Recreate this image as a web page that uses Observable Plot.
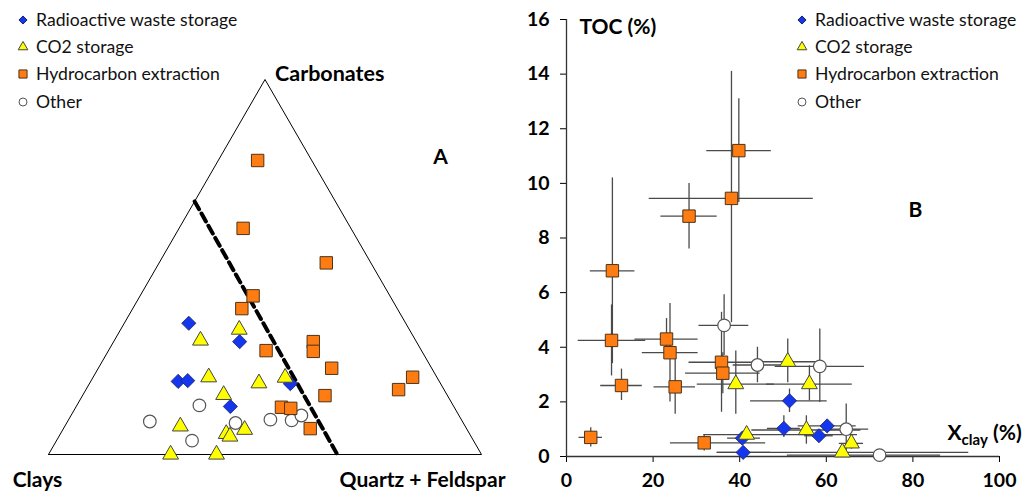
<!DOCTYPE html>
<html>
<head>
<meta charset="utf-8">
<script src="https://cdn.jsdelivr.net/npm/d3@7"></script>
<script src="https://cdn.jsdelivr.net/npm/@observablehq/plot@0.6"></script>
<style>
  body { margin: 0; background: #fff; }
  #wrap { position: relative; width: 1023px; height: 493px; overflow: hidden; font-family: Lato, "Open Sans", sans-serif; background:#fff; }
  .lg { position: absolute; white-space: nowrap; font-size: 17.6px; line-height: 1; color: #111; transform: translateY(-50%); }
</style>
</head>
<body>
<div id="wrap"></div>
<script>
// ---------- categories ----------
const groups = ["Radioactive waste storage", "CO2 storage", "Hydrocarbon extraction", "Other"];

// ---------- panel A: ternary compositions (%) ----------
const terGroup = [
  ...Array(15).fill("Hydrocarbon extraction"),
  ...Array(6).fill("Radioactive waste storage"),
  ...Array(12).fill("CO2 storage"),
  ...Array(7).fill("Other")
];
const terClay = [12.5, 24.9, 10.3, 31.6, 35.9, 35.9, 23.8, 25.1, 23.1, 5.6, 10.5, 28.3, 39.9, 37.9, 36.1,
                 50.1, 40.8, 60.3, 58.0, 34.7, 51.6,
                 49.7, 39.3, 52.7, 41.9, 35.1, 51.6, 65.8, 56.2, 55.7, 51.4, 71.8, 61.2,
                 58.6, 72.2, 65.0, 52.6, 44.1, 39.3, 36.4];
const terCarb = [78.4, 60.3, 51.1, 42.3, 38.9, 27.7, 30.1, 27.5, 23.0, 20.6, 17.3, 15.7, 12.6, 12.3, 6.9,
                 35.0, 30.1, 19.5, 19.7, 18.9, 12.8,
                 30.4, 33.3, 20.6, 19.0, 20.5, 15.9, 7.5, 5.5, 4.8, 6.6, 0, 0,
                 13.1, 8.8, 3.7, 8.4, 9.3, 9.1, 10.4];
const terQF   = [9.1, 14.8, 38.6, 26.1, 25.2, 36.4, 46.1, 47.4, 53.9, 73.8, 72.2, 56.0, 47.5, 49.8, 57.0,
                 14.9, 29.1, 20.2, 22.3, 46.4, 35.6,
                 19.9, 27.4, 26.7, 39.1, 44.4, 32.5, 26.7, 38.3, 39.5, 42.0, 28.2, 38.8,
                 28.3, 19.0, 31.3, 39.0, 46.6, 51.6, 53.2];
// triangle vertices (clay, carbonates, quartz+feldspar) and labels
const vertexLabels = ["Clays", "Carbonates", "Quartz + Feldspar"];
const vertexClay = [100, 0, 0];
const vertexCarb = [0, 100, 0];
const vertexQF   = [0, 0, 100];
// dashed boundary line (constant clay ~33 %)
const dashClay = [32.5, 33.3];
const dashCarb = [67.5, 0];
const dashQF   = [0, 66.7];

// ---------- panel B: clay fraction vs TOC ----------
const bGroup = [
  ...Array(13).fill("Hydrocarbon extraction"),
  ...Array(5).fill("Other"),
  ...Array(7).fill("CO2 storage"),
  ...Array(6).fill("Radioactive waste storage")
];
const bClay   = [39.8, 38.1, 28.3, 10.6, 10.4, 23.1, 23.9, 35.8, 36.1, 12.7, 25.1, 5.6, 31.8,
                 36.4, 44.1, 58.5, 64.6, 72.3,
                 51.1, 39.1, 56.1, 55.4, 41.6, 65.8, 63.7,
                 51.5, 50.2, 60.2, 58.3, 40.6, 40.8];
const bToc    = [11.2, 9.45, 8.8, 6.8, 4.25, 4.3, 3.8, 3.45, 3.05, 2.6, 2.55, 0.7, 0.5,
                 4.8, 3.35, 3.3, 1.0, 0.05,
                 3.47, 2.65, 2.65, 0.97, 0.8, 0.48, 0.15,
                 2.04, 1.03, 1.12, 0.76, 0.67, 0.15];
const bClayLo = [32.4, 19.1, 21.8, 5.5, 2.7, 15.8, 17.5, 28.3, 27.5, 7.9, 20.2, 2.9, 24.0,
                 30.6, 38.5, 48.2, 59.4, 51.0,
                 44.0, 30.2, 46.2, 42.8, 31.7, 63.0, 34.8,
                 42.5, 46.4, 53.5, 55.0, 37.2, 34.8];
const bClayHi = [47.3, 57.0, 34.8, 15.8, 18.3, 30.4, 30.4, 43.3, 44.7, 17.5, 29.8, 8.3, 46.0,
                 42.1, 49.7, 68.8, 69.8, 86.4,
                 58.0, 48.0, 66.0, 68.0, 67.2, 68.6, 92.9,
                 60.2, 54.0, 66.9, 61.6, 44.8, 47.1];
const bTocLo  = [9.3, 4.9, 7.6, 3.4, 2.95, 3.55, 2.0, 1.62, 2.3, 2.05, 1.55, 0.35, 0.2,
                 3.7, 2.7, 1.98, 0.14, 0.05,
                 2.7, 1.55, 2.04, 0.45, 0.8, 0.27, 0.15,
                 1.61, 0.7, 1.12, 0.76, 0.67, 0.15];
const bTocHi  = [13.1, 14.1, 10.0, 10.2, 5.55, 5.05, 5.6, 5.28, 3.8, 3.2, 3.6, 1.05, 0.8,
                 5.92, 4.0, 4.67, 1.92, 0.05,
                 4.3, 3.86, 3.32, 1.49, 0.8, 0.7, 0.15,
                 2.47, 1.49, 1.12, 0.76, 0.67, 0.15];
const xTicks = [0, 20, 40, 60, 80, 100];
const yTicks = [0, 2, 4, 6, 8, 10, 12, 14, 16];

// ---------- styles ----------
const diamondSym = {draw(ctx, size) { const r = Math.sqrt(size) * 0.62625; ctx.moveTo(0, -r); ctx.lineTo(r, 0); ctx.lineTo(0, r); ctx.lineTo(-r, 0); ctx.closePath(); }};
const style = {
  "Radioactive waste storage": {symbol: diamondSym, fill: "#1437ee", stroke: "#1a1f66", r: 6.4, sw: 0.8, lsym: diamondSym, lsize: 42},
  "CO2 storage": {symbol: "triangle", fill: "#ffff00", stroke: "#444", r: 5.9, sw: 1, lsym: d3.symbolTriangle, lsize: 40},
  "Hydrocarbon extraction": {symbol: "square", fill: "#ff7c12", stroke: "#4d3319", r: 7, sw: 1, lsym: d3.symbolSquare, lsize: 66},
  "Other": {symbol: "circle", fill: "#ffffff", stroke: "#555", r: 6.3, sw: 1.2, lsym: d3.symbolCircle, lsize: 50}
};

// ---------- build tables ----------
const S3 = Math.sqrt(3) / 2;
const tern = (clay, carb, qf) => { const s = clay + carb + qf; return {x: (qf + carb / 2) / s, y: (carb / s) * S3}; };
const terData = terGroup.map((g, i) => ({group: g, ...tern(terClay[i], terCarb[i], terQF[i])}));
const vertData = vertexLabels.map((l, i) => ({label: l, ...tern(vertexClay[i], vertexCarb[i], vertexQF[i])}));
const outline = [...vertData, vertData[0]];
const dashData = dashClay.map((c, i) => tern(c, dashCarb[i], dashQF[i]));
const bData = bGroup.map((g, i) => ({group: g, clay: bClay[i], toc: bToc[i], x1: bClayLo[i], x2: bClayHi[i], y1: bTocLo[i], y2: bTocHi[i]}));

const drawOrder = ["Other", "Hydrocarbon extraction", "Radioactive waste storage", "CO2 storage"];
const dots = (data, x, y) => drawOrder.map(g => Plot.dot(data.filter(d => d.group === g), {
  x, y, symbol: style[g].symbol, r: style[g].r, fill: style[g].fill, stroke: style[g].stroke, strokeWidth: style[g].sw
}));

// ---------- panel A ----------
const left = Plot.plot({
  width: 520, height: 493,
  marginLeft: 48, marginRight: 39, marginTop: 79, marginBottom: 39,
  x: {domain: [0, 1], axis: null},
  y: {domain: [0, S3], axis: null},
  style: {fontFamily: "Lato, sans-serif", background: "transparent", overflow: "visible"},
  marks: [
    Plot.line(outline, {x: "x", y: "y", stroke: "#000", strokeWidth: 1}),
    Plot.line(dashData, {x: "x", y: "y", stroke: "#000", strokeWidth: 4, strokeDasharray: "9,5"}),
    ...dots(terData, "x", "y"),
    Plot.text(vertData.filter(d => d.label === "Clays"), {x: "x", y: "y", text: "label", dx: -11, dy: 26, fontSize: 21, fontWeight: "bold", textAnchor: "middle", fill: "#000"}),
    Plot.text(vertData.filter(d => d.label === "Quartz + Feldspar"), {x: "x", y: "y", text: "label", dx: 24, dy: 26, fontSize: 21, fontWeight: "bold", textAnchor: "end", fill: "#000"}),
    Plot.text(vertData.filter(d => d.label === "Carbonates"), {x: "x", y: "y", text: "label", dx: 10, dy: -5, fontSize: 21.5, fontWeight: "bold", textAnchor: "start", fill: "#000"}),
    Plot.text(["A"], {frameAnchor: "top-left", dx: 392, dy: 78, fontSize: 21, fontWeight: "bold", textAnchor: "middle", lineAnchor: "middle", fill: "#000"})
  ]
});

// ---------- panel B ----------
const right = Plot.plot({
  width: 503, height: 493,
  marginLeft: 46, marginRight: 24, marginTop: 19, marginBottom: 37,
  x: {domain: [0, 100], ticks: xTicks, tickSize: 6, tickPadding: 11, label: null},
  y: {domain: [0, 16], ticks: yTicks, tickSize: 6, tickPadding: 11, label: null},
  style: {fontFamily: "Lato, sans-serif", fontSize: "19.5px", fontWeight: "bold", color: "#000", background: "transparent", overflow: "visible"},
  marks: [
    Plot.ruleY(bData, {y: "toc", x1: "x1", x2: "x2", stroke: "#4a4a4a", strokeWidth: 1.3}),
    Plot.ruleX(bData, {x: "clay", y1: "y1", y2: "y2", stroke: "#4a4a4a", strokeWidth: 1.3}),
    Plot.ruleX([0], {stroke: "#333", strokeWidth: 1.3}),
    Plot.ruleY([0], {stroke: "#333", strokeWidth: 1.3}),
    ...dots(bData, "clay", "toc"),
    Plot.text(["TOC (%)"], {frameAnchor: "top-left", dx: 13, dy: 8, fontSize: 21, fontWeight: "bold", textAnchor: "start", lineAnchor: "middle", fill: "#000"}),
    Plot.text(["Xclay (%)"], {frameAnchor: "top-left", dx: 381, dy: 414, fontSize: 21, fontWeight: "bold", textAnchor: "start", lineAnchor: "middle", fill: "#000"}),
    Plot.text(["B"], {frameAnchor: "top-left", dx: 349, dy: 191, fontSize: 21, fontWeight: "bold", textAnchor: "middle", lineAnchor: "middle", fill: "#000"})
  ]
});

// subscript for X_clay
d3.select(right).selectAll("text").filter(function() { return this.textContent === "Xclay (%)"; }).each(function() {
  const t = d3.select(this); t.text("");
  t.append("tspan").text("X");
  t.append("tspan").attr("font-size", 15).attr("dy", "0.35em").text("clay");
  t.append("tspan").attr("dy", "-0.25em").text(" (%)");
});

const wrap = document.getElementById("wrap");
left.style.position = "absolute"; left.style.left = "0px"; left.style.top = "0px";
right.style.position = "absolute"; right.style.left = "520px"; right.style.top = "0px";
wrap.appendChild(left);
wrap.appendChild(right);

// ---------- legends ----------
function legend(symX, textX) {
  groups.forEach((g, i) => {
    const cy = 20 + i * 27.2;
    const s = style[g];
    const svg = d3.create("svg").attr("width", 16).attr("height", 16)
      .style("position", "absolute").style("left", (symX - 8) + "px").style("top", (cy - 8) + "px");
    svg.append("path").attr("transform", "translate(8,8)")
      .attr("d", d3.symbol(s.lsym, s.lsize)())
      .attr("fill", s.fill).attr("stroke", s.stroke).attr("stroke-width", 1);
    wrap.appendChild(svg.node());
    const t = document.createElement("div");
    t.className = "lg"; t.textContent = g;
    t.style.left = textX + "px"; t.style.top = cy + "px";
    wrap.appendChild(t);
  });
}
legend(23, 36);
legend(802, 815);
</script>
</body>
</html>
